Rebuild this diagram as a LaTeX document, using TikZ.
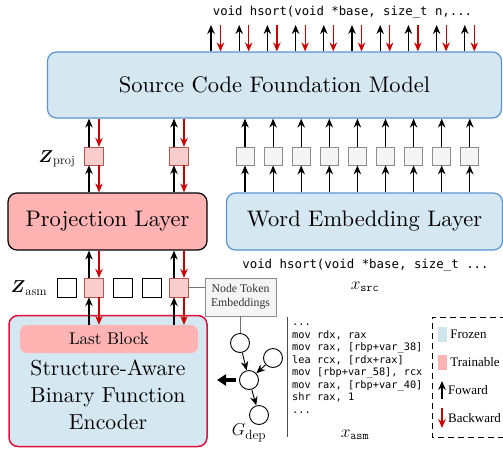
\documentclass[tikz,border=0pt]{standalone}
\usepackage{amsmath}
\usepackage{fontspec}
\newfontfamily\codefont{DejaVu Sans Mono}
\newfontfamily\legfont{Liberation Serif}
\newfontfamily\labelfont{lmroman10-regular}[Extension=.otf]
\usetikzlibrary{positioning,arrows,arrows.meta}
\definecolor{frozenblue}{HTML}{D5E8F1}
\definecolor{frozenline}{HTML}{5B93D0}
\definecolor{trainpink}{HTML}{FFB3B3}
\definecolor{projfill}{HTML}{F8CECC}
\definecolor{projline}{HTML}{B85450}
\definecolor{encline}{HTML}{E0103A}
\definecolor{backred}{HTML}{CC0000}
\definecolor{tokfill}{HTML}{F5F5F5}
\definecolor{legblue}{HTML}{CFE6EC}

\begin{document}
\begin{tikzpicture}[x=1pt, y=-1pt, >={Stealth[length=9pt,width=7.5pt,inset=3pt]},
    fwd/.style={draw=black, line width=1.2pt, ->},
    bwd/.style={draw=backred, line width=1.2pt, ->},
    layer/.style={rectangle, rounded corners=9pt, line width=1.2pt, inner sep=0pt,
      align=center, font=\labelfont\fontsize{22.5}{29}\selectfont},
    frozen/.style={layer, draw=frozenline, fill=frozenblue},
    trainable/.style={layer, draw=black, fill=trainpink},
    projtok/.style={rectangle, draw=projline, fill=projfill, minimum width=19, minimum height=18, inner sep=0pt},
    srctok/.style={rectangle, draw=black!45, fill=tokfill, line width=0.8pt, minimum width=18, minimum height=18, inner sep=0pt},
    asmtok/.style={rectangle, draw=black, fill=white, line width=0.8pt, minimum size=19, inner sep=0pt},
    gnode/.style={circle, draw=black, line width=0.9pt, minimum size=19, inner sep=0pt},
    code/.style={font=\codefont\fontsize{12.4}{15}\selectfont, inner sep=0pt},
    legtext/.style={font=\legfont\fontsize{13}{15}\selectfont, inner sep=0pt, anchor=west}]
    \useasboundingbox (0,0) rectangle (503,448);

    % main blocks
    \node [frozen, minimum width=454, minimum height=66] (scfm) at (274.5,85) {Source Code Foundation Model};
    \node [trainable, minimum width=199, minimum height=57] (proj) at (107.5,221.5) {Projection Layer};
    \node [frozen, minimum width=276, minimum height=57] (wel) at (364.5,221.5) {Word Embedding Layer};
    \node [layer, draw=encline, fill=frozenblue, line width=1.5pt, minimum width=198, minimum height=131] (enc) at (108,381) {};
    \node [rectangle, rounded corners=7pt, fill=trainpink, minimum width=178, minimum height=28,
      font=\labelfont\fontsize{17}{22}\selectfont] (last) at (109,339) {Last Block};
    \node [align=center, font=\labelfont\fontsize{21.7}{27}\selectfont] (enctext) at (108,395) {Structure-Aware\\Binary Function\\Encoder};

    % tokens
    \node [projtok] (zp1) at (94,156) {};
    \node [projtok] (zp2) at (179,156) {};
    \node [asmtok] (za1) at (66.5,287.5) {};
    \node [projtok, minimum height=19] (za2) at (94,287.5) {};
    \node [asmtok] (za3) at (123,287.5) {};
    \node [asmtok] (za4) at (151.5,287.5) {};
    \node [projtok, minimum height=19] (za5) at (179,287.5) {};
    \node [font=\fontsize{18}{20}\selectfont] (zproj) at (57,159) {$\boldsymbol{Z}_{\mathrm{proj}}$};
    \node [font=\fontsize{18}{20}\selectfont] (zasm) at (29,288) {$\boldsymbol{Z}_{\mathrm{asm}}$};

    \foreach \p/\a in {zp1/za2, zp2/za5} {
      \path [fwd] ([xshift=-5pt]\p.north) -- ([xshift=-5pt]\p.north |- scfm.south);
      \path [bwd] ([xshift=5pt]\p.north |- scfm.south) -- ([xshift=5pt]\p.north);
      \path [fwd] ([xshift=-5pt]\p.south |- proj.north) -- ([xshift=-5pt]\p.south);
      \path [bwd] ([xshift=5pt]\p.south) -- ([xshift=5pt]\p.south |- proj.north);
      \path [fwd] ([xshift=-5pt]\a.north) -- ([xshift=-5pt]\a.north |- proj.south);
      \path [bwd] ([xshift=5pt]\a.north |- proj.south) -- ([xshift=5pt]\a.north);
      \path [fwd] ([xshift=-5pt]\a.south |- last.north) -- ([xshift=-5pt]\a.south);
      \path [bwd] ([xshift=5pt]\a.south) -- ([xshift=5pt]\a.south |- last.north);
    }

    \foreach \i in {0,...,8} {
      \node [srctok] (s\i) at (245+28.1*\i,156) {};
      \path [fwd] (s\i.north) -- (s\i.north |- scfm.south);
      \path [fwd] (s\i.south |- wel.north) -- (s\i.south);
    }

    \foreach \i in {0,...,9} {
      \coordinate (t\i) at (211+28.2*\i,25);
      \path [fwd] (t\i |- scfm.north) -- (t\i);
      \path [bwd] ([xshift=9.5pt]t\i) -- ([xshift=9.5pt]t\i |- scfm.north);
    }

    % source text
    \node [code, font=\codefont\fontsize{12.3}{15}\selectfont] (srctop) at (342.5,12) {void hsort(void *base, size\_t n,...};
    \node [code] (srcbot) at (365.5,265) {void hsort(void *base, size\_t ...};
    \node [font=\fontsize{17}{19}\selectfont] (xsrc) at (365,287) {$x_{\texttt{src}}$};

    % dependency graph
    \node [rectangle, draw=black!45, fill=tokfill, line width=0.8pt, minimum width=71, minimum height=38, inner sep=0pt,
      align=center, text=black!80, font=\legfont\fontsize{11.8}{14}\selectfont] (nte) at (240.5,297) {Node Token\\Embeddings};
    \node [gnode] (g1) at (240,343) {};
    \node [gnode] (g2) at (273,358) {};
    \node [gnode] (g3) at (249,380) {};
    \node [gnode] (g4) at (259,415) {};
    \node [font=\fontsize{19}{21}\selectfont] (gdep) at (249,433) {$G_{\mathrm{dep}}$};
    \path [draw=black!55, line width=0.9pt] (za5.east) -- (za5.east -| nte.west);
    \path [draw=black!55, line width=0.9pt] (nte.south -| g1) -- (g1.north);
    \path [draw, ->, line width=0.9pt] (g1) -- (g3);
    \path [draw, ->, line width=0.9pt] (g2) -- (g3);
    \path [draw, ->, line width=0.9pt] (g3) -- (g4);
    \coordinate (bigtail) at (236,380);
    \coordinate (bighead) at (217,380);
    \path [draw, line width=3.5pt, -{Triangle[length=9pt,width=11pt]}] (bigtail) -- (bighead);

    % assembly
    \coordinate (septop) at (287,317);
    \coordinate (sepbot) at (287,437);
    \path [draw=black!70, line width=0.9pt] (septop) -- (sepbot);
    \node [code, font=\codefont\fontsize{10.3}{12.5}\selectfont, align=left, anchor=west] (asm) at (292,368.5)
      {...\\mov rdx, rax\\mov rax, [rbp+var\_38]\\lea rcx, [rdx+rax]\\mov [rbp+var\_58], rcx\\mov rax, [rbp+var\_40]\\shr rax, 1\\...};
    \node [font=\fontsize{17}{19}\selectfont] (xasm) at (355,435) {$x_{\texttt{asm}}$};

    % legend
    \draw [dashed, dash pattern=on 6pt off 4pt, line width=0.8pt] (506,317) -- (432,317) -- (432,437) -- (506,437);
    \node [fill=legblue, minimum width=9, minimum height=15, inner sep=0pt] (swfrozen) at (442.5,334.5) {};
    \node [fill=trainpink, minimum width=9, minimum height=15, inner sep=0pt] (swtrain) at (442.5,362) {};
    \node [legtext, right=3pt of swfrozen] (lfrozen) {Frozen};
    \node [legtext, right=3pt of swtrain] (ltrain) {Trainable};
    \coordinate (fwdtail) at (442,399);
    \coordinate (fwdhead) at (442,381);
    \coordinate (bwdtail) at (442,408);
    \coordinate (bwdhead) at (442,428);
    \path [fwd] (fwdtail) -- (fwdhead);
    \path [bwd] (bwdtail) -- (bwdhead);
    \node [legtext] (lfwd) at (448,390) {Foward};
    \node [legtext] (lbwd) at (448,418) {Backward};

\end{tikzpicture}
\end{document}
